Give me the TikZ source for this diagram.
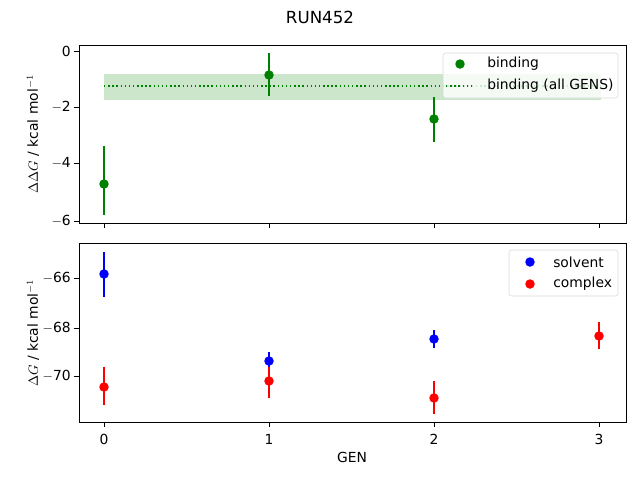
\documentclass[tikz,border=0pt]{standalone}
\usepackage{fontspec}
\setmainfont{DejaVu Sans}
\begin{document}
\begin{tikzpicture}[x=0.75pt,y=-0.75pt,
  lab/.style={font=\fontsize{10.4}{12}\selectfont,inner sep=0pt},
  pt/.style={circle,fill=#1,inner sep=0pt,minimum size=9.5*0.75pt},
  eb/.style={draw=#1,line width=1.1pt}]
\useasboundingbox (0,0) rectangle (640,480);
\definecolor{mgreen}{RGB}{0,128,0}
\node[font=\fontsize{12.5}{14}\selectfont] (title) at (320,17) {RUN452};
% ---- top axes
\fill[mgreen,opacity=0.2] (104,74) rectangle (601,100);
\draw[mgreen,dotted,line width=1.1pt] (104,86) -- (601,86);
\foreach \x/\t/\b in {104/146/215,269/53/96,434/97/142}{
  \draw[eb=mgreen] (\x,\t) -- (\x,\b);
  \node[pt=mgreen] at (\x,{(\t+\b)/2+ (\x==104 ? 3.5 : (\x==269 ? 0.5 : -0.5))}) {};}
\draw[line width=0.6pt] (79,45) rectangle (626,223);
\foreach \y/\l in {51/0,107/$-$2,163/$-$4,221/$-$6}{
  \draw (79,\y) -- (74,\y); \node[lab,anchor=east] at (71,\y) {\l};}
\foreach \x in {104,269,434,599}{ \draw (\x,223) -- (\x,228);}
\node[lab,rotate=90] (yl1) at (33,134) {$\Delta\Delta G$ / kcal mol$^{-1}$};
% legend top
\draw[fill=white,fill opacity=0.8,draw=black!15,rounded corners=2pt] (443,53) rectangle (618,98);
\node[pt=mgreen] at (460,64) {};
\draw[mgreen,dotted,line width=1.1pt] (446,86) -- (474,86);
\node[lab,anchor=west] (b1) at (487,64) {binding};
\node[lab,anchor=west] (b2) at (487,86) {binding (all GENS)};
% ---- bottom axes
\draw[eb=blue] (104,252) -- (104,297); \node[pt=blue] at (104,274) {};
\draw[eb=blue] (269,352) -- (269,370); \node[pt=blue] at (269,361) {};
\draw[eb=blue] (434,330) -- (434,348); \node[pt=blue] at (434,339) {};
\draw[eb=red] (104,367) -- (104,405); \node[pt=red] at (104,387) {};
\draw[eb=red] (269,367) -- (269,398); \node[pt=red] at (269,381) {};
\draw[eb=red] (434,381) -- (434,414); \node[pt=red] at (434,398) {};
\draw[eb=red] (599,322) -- (599,349); \node[pt=red] at (599,336) {};
\draw[line width=0.6pt] (79,243) rectangle (626,422);
\foreach \y/\l in {278/$-$66,328/$-$68,376/$-$70}{
  \draw (79,\y) -- (74,\y); \node[lab,anchor=east] at (71,\y) {\l};}
\foreach \x/\l in {104/0,269/1,434/2,599/3}{
  \draw (\x,422) -- (\x,427); \node[lab] at (\x,439) {\l};}
\node[lab] (xl) at (352,457) {GEN};
\node[lab,rotate=90] (yl2) at (33,333) {$\Delta G$ / kcal mol$^{-1}$};
% legend bottom
\draw[fill=white,fill opacity=0.8,draw=black!15,rounded corners=2pt] (509,250) rectangle (618,296);
\node[pt=blue] at (530,262) {};
\node[pt=red] at (530,284) {};
\node[lab,anchor=west] (s) at (553,262) {solvent};
\node[lab,anchor=west] (c) at (553,284) {complex};
\end{tikzpicture}
\end{document}
